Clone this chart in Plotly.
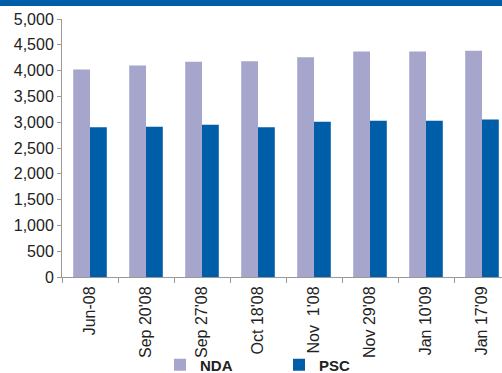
import plotly.graph_objects as go

categories = ["Jun-08", "Sep 20'08", "Sep 27'08", "Oct 18'08", "Nov  1'08", "Nov 29'08", "Jan 10'09", "Jan 17'09"]
nda = [4020, 4100, 4170, 4180, 4260, 4370, 4370, 4385]
psc = [2900, 2910, 2950, 2900, 3010, 3030, 3030, 3050]
y_ticks = [0, 500, 1000, 1500, 2000, 2500, 3000, 3500, 4000, 4500, 5000]

W, H = 502, 373
ML, MR, MT, MB = 62, 0, 19, 96
PW, PH = W - ML - MR, H - MT - MB

fig = go.Figure()
fig.add_trace(go.Bar(name="NDA", x=categories, y=nda, marker=dict(color="#a6a6cc", line=dict(width=0))))
fig.add_trace(go.Bar(name="PSC", x=categories, y=psc, marker=dict(color="#005da8", line=dict(width=0))))

fig.update_layout(
    width=W, height=H,
    margin=dict(l=ML, r=MR, t=MT, b=MB, pad=0, autoexpand=False),
    paper_bgcolor="white", plot_bgcolor="white",
    barmode="group", bargap=0.40, bargroupgap=0,
    font=dict(family="Liberation Sans, Arial, sans-serif", size=16, color="#222222"),
    showlegend=True,
    legend=dict(orientation="h", xref="container", yref="container",
                x=160 / W, xanchor="left",
                y=(H - 365) / H, yanchor="middle",
                font=dict(family="Liberation Sans, Arial, sans-serif", size=15, color="#222222", weight="bold"),
                entrywidth=74, entrywidthmode="pixels", itemwidth=30,
                bgcolor="rgba(0,0,0,0)"),
    xaxis=dict(type="category", range=[-0.5, -0.5 + PW / 56.0],
               showline=True, linecolor="#999999", linewidth=1,
               ticks="outside", ticklen=5, tickcolor="#999999", tickson="boundaries",
               tickangle=-90, showgrid=False, zeroline=False, ticklabelstandoff=2,
               tickfont=dict(size=16, color="#222222")),
    yaxis=dict(range=[0, 5000], tickvals=y_ticks, tickformat=",d",
               showline=True, linecolor="#999999", linewidth=1,
               ticks="outside", ticklen=4, tickcolor="#999999",
               showgrid=False, zeroline=False,
               tickfont=dict(size=16, color="#222222")),
    shapes=[dict(type="rect", xref="paper", yref="paper",
                 x0=-ML / PW, x1=1.0, y0=1 + (MT - 6) / PH, y1=1 + MT / PH + 0.01,
                 fillcolor="#005da8", line=dict(width=0), layer="above")],
)

fig.write_html("out.html")
